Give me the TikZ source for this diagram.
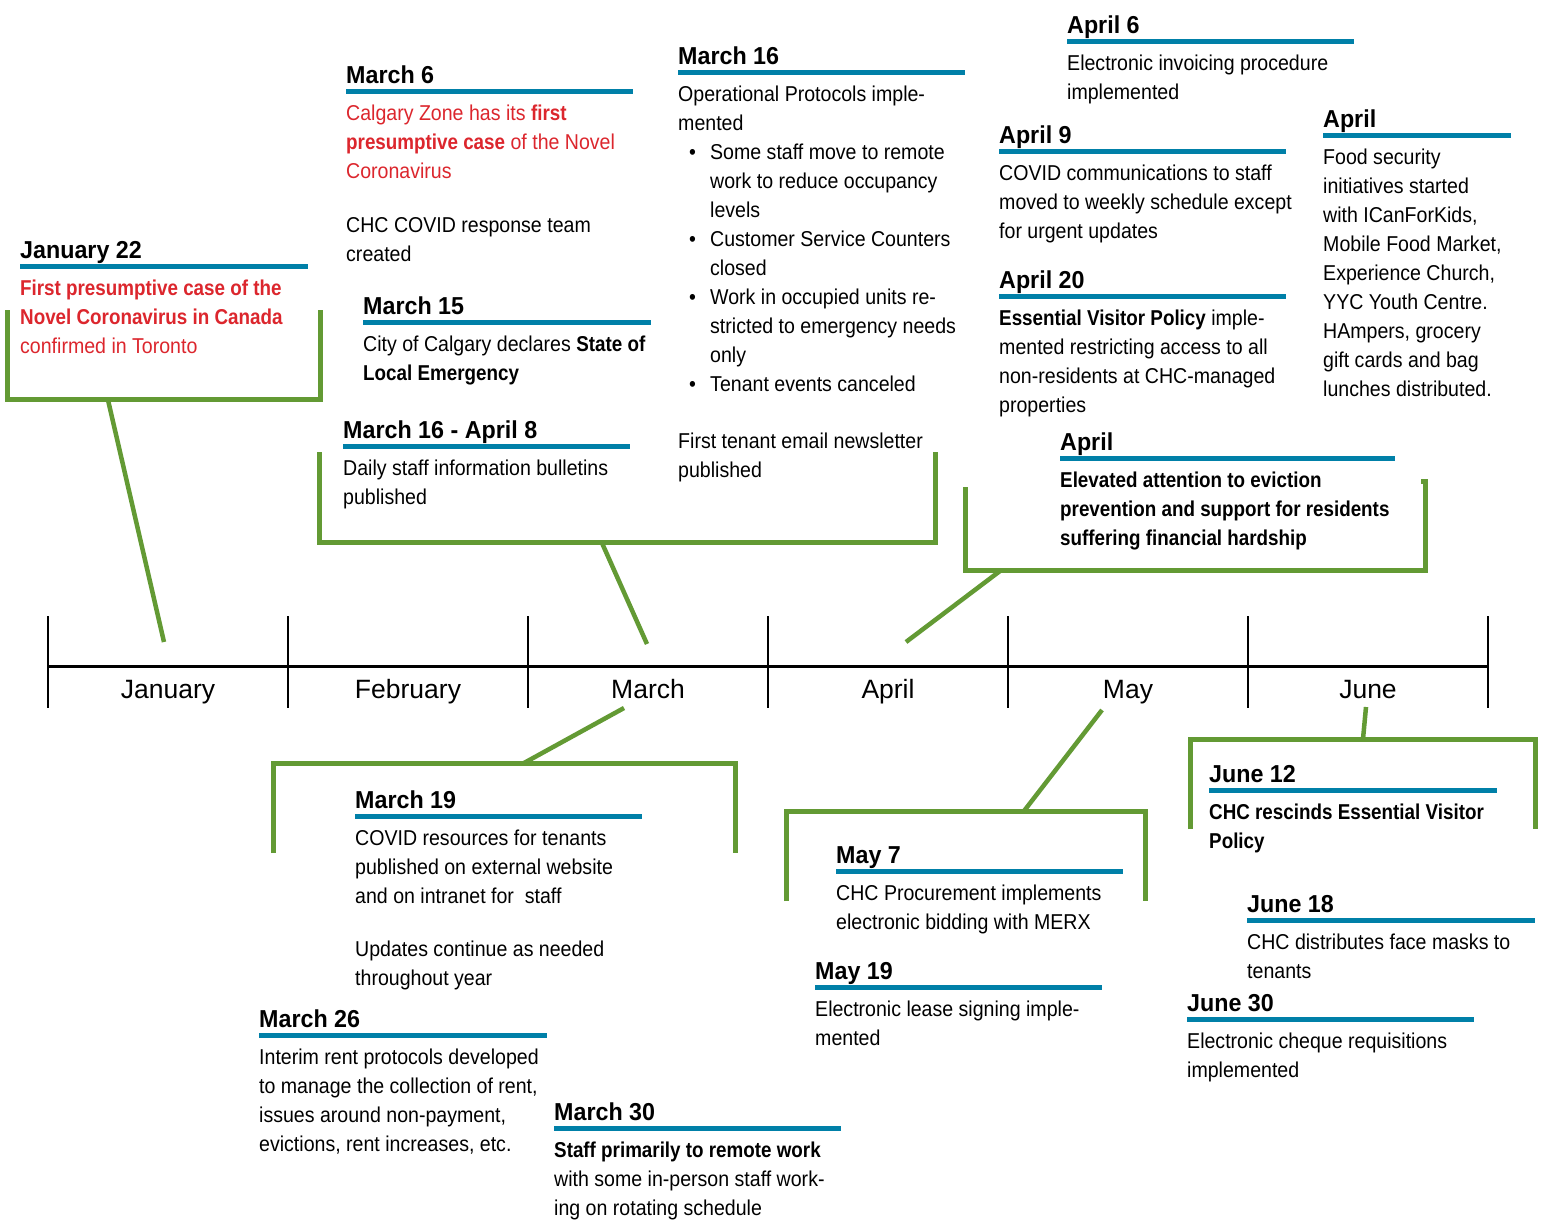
\documentclass[tikz,border=0pt]{standalone}
\usepackage{fontspec}
\setmainfont{Liberation Sans}[FakeStretch=0.91, BoldFeatures={FakeStretch=0.875}]
\newfontfamily\hfont{Liberation Sans Bold}[FakeStretch=0.95]
\newfontfamily\mfont{Liberation Sans}
\definecolor{cblue}{RGB}{0,128,168}
\definecolor{cgreen}{RGB}{99,154,52}
\definecolor{cred}{RGB}{220,38,45}
\tikzset{
  head/.style={anchor=base west, inner sep=0pt, font=\hfont\fontsize{24.5}{29}\selectfont},
  body/.style={anchor=north west, inner sep=0pt, align=left, font=\fontsize{21.5}{29}\selectfont},
  uline/.style={draw=cblue, line width=5pt},
  bracket/.style={draw=cgreen, line width=5pt, line join=miter},
  conn/.style={draw=cgreen, line width=4.5pt},
  month/.style={anchor=base, inner sep=0pt, font=\mfont\fontsize{26.5}{30}\selectfont},
  tline/.style={draw=black, line width=3pt},
  tickmark/.style={draw=black, line width=2.3pt},
}
\newcommand\evt[7][]{%
  \node[head] (#2-h) at (#3,#4-8) {#6};
  \draw[uline] (#3,#4) -- (#5,#4);
  \node[body,#1] (#2-b) at (#3,#4+8) {\rule{0pt}{21pt}#7};
}
\newcommand\mybul{\makebox[32pt][l]{\hspace*{11pt}\textbullet}}
\newcommand\myind{\hspace*{32pt}}
\begin{document}
\begin{tikzpicture}[x=1pt,y=-1pt]
\fill[white] (0,0) rectangle (1543,1226);
\useasboundingbox (0,0) rectangle (1543,1226);

% timeline
\draw[tline] (48,666) -- (1488,666);
\foreach \x in {48,288,528,768,1008,1248,1488} \draw[tickmark] (\x,616) -- (\x,708);
\node[month] (m-jan) at (168,698) {January};
\node[month] (m-feb) at (408,698) {February};
\node[month] (m-mar) at (648,698) {March};
\node[month] (m-apr) at (888,698) {April};
\node[month] (m-may) at (1128,698) {May};
\node[month] (m-jun) at (1368,698) {June};

% brackets (above)
\draw[bracket] (7,310) -- (7,399) -- (320,399) -- (320,310);
\draw[bracket] (319,452) -- (319,542) -- (935,542) -- (935,452);
\draw[bracket] (965,487) -- (965,570) -- (1425,570) -- (1425,481) -- (1421,481);
% brackets (below)
\draw[bracket] (273,853) -- (273,763) -- (735,763) -- (735,853);
\draw[bracket] (786,901) -- (786,811) -- (1145,811) -- (1145,901);
\draw[bracket] (1190,829) -- (1190,739) -- (1535,739) -- (1535,829);

% connector end points
\coordinate (jan-a) at (108,400);  \coordinate (jan-b) at (164,642);
\coordinate (mar-a) at (602,543);  \coordinate (mar-b) at (647,644);
\coordinate (apr-a) at (1000,571); \coordinate (apr-b) at (906,642);
\coordinate (mar19-a) at (524,763); \coordinate (mar19-b) at (624,708);
\coordinate (may-a) at (1024,811); \coordinate (may-b) at (1102,710);
\coordinate (jun-a) at (1363,739); \coordinate (jun-b) at (1366,707);
\draw[conn] (jan-a) -- (jan-b);
\draw[conn] (mar-a) -- (mar-b);
\draw[conn] (apr-a) -- (apr-b);
\draw[conn] (mar19-a) -- (mar19-b);
\draw[conn] (may-a) -- (may-b);
\draw[conn] (jun-a) -- (jun-b);

% events
\evt[text=cred]{jan22}{20}{266}{308}{January 22}{\textbf{First presumptive case of the}\\ \textbf{Novel Coronavirus in Canada}\\ confirmed in Toronto}
\evt[text=cred]{mar6}{346}{91}{633}{March 6}{Calgary Zone has its \textbf{first}\\ \textbf{presumptive case} of the Novel\\ Coronavirus\\[25pt] \textcolor{black}{CHC COVID response team}\\ \textcolor{black}{created}}
\evt{mar15}{363}{322}{651}{March 15}{City of Calgary declares \textbf{State of}\\ \textbf{Local Emergency}}
\evt{mar16apr8}{343}{446}{630}{March 16 - April 8}{Daily staff information bulletins\\ published}
\evt{mar16}{678}{72}{965}{March 16}{Operational Protocols imple-\\ mented\\ \mybul Some staff move to remote\\ \myind work to reduce occupancy\\ \myind levels\\ \mybul Customer Service Counters\\ \myind closed\\ \mybul Work in occupied units re-\\ \myind stricted to emergency needs\\ \myind only\\ \mybul Tenant events canceled\\[28pt] First tenant email newsletter\\ published}
\evt{apr6}{1067}{41}{1354}{April 6}{Electronic invoicing procedure\\ implemented}
\evt{apr9}{999}{151}{1286}{April 9}{COVID communications to staff\\ moved to weekly schedule except\\ for urgent updates}
\evt{apr20}{999}{296}{1286}{April 20}{\textbf{Essential Visitor Policy} imple-\\ mented restricting access to all\\ non-residents at CHC-managed\\ properties}
\evt{aprfood}{1323}{135}{1511}{April}{Food security\\ initiatives started\\ with ICanForKids,\\ Mobile Food Market,\\ Experience Church,\\ YYC Youth Centre.\\ HAmpers, grocery\\ gift cards and bag\\ lunches distributed.}
\evt{apreviction}{1060}{458}{1395}{April}{\textbf{Elevated attention to eviction}\\ \textbf{prevention and support for residents}\\ \textbf{suffering financial hardship}}
\evt{mar19}{355}{816}{642}{March 19}{COVID resources for tenants\\ published on external website\\ and on intranet for\ \ staff\\[24pt] Updates continue as needed\\ throughout year}
\evt{mar26}{259}{1035}{547}{March 26}{Interim rent protocols developed\\ to manage the collection of rent,\\ issues around non-payment,\\ evictions, rent increases, etc.}
\evt{mar30}{554}{1128}{841}{March 30}{\textbf{Staff primarily to remote work}\\ with some in-person staff work-\\ ing on rotating schedule}
\evt{may7}{836}{871}{1123}{May 7}{CHC Procurement implements\\ electronic bidding with MERX}
\evt{may19}{815}{987}{1102}{May 19}{Electronic lease signing imple-\\ mented}
\evt{jun12}{1209}{790}{1497}{June 12}{\textbf{CHC rescinds Essential Visitor}\\ \textbf{Policy}}
\evt{jun18}{1247}{920}{1535}{June 18}{CHC distributes face masks to\\ tenants}
\evt{jun30}{1187}{1019}{1474}{June 30}{Electronic cheque requisitions\\ implemented}
\end{tikzpicture}
\end{document}
